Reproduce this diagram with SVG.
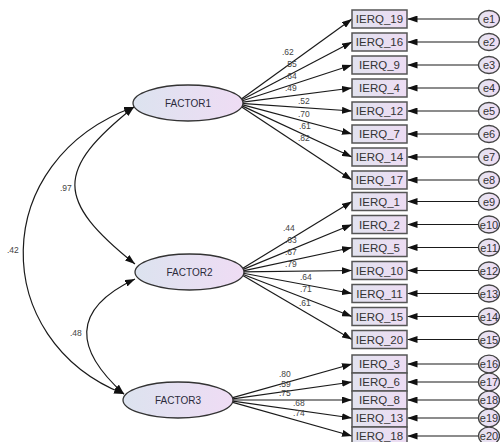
<svg xmlns="http://www.w3.org/2000/svg" width="500" height="442" viewBox="0 0 500 442">
<style>
.lat{stroke:#333;stroke-width:1.3;fill:url(#gE)}
.obs{stroke:#555;stroke-width:1.5;fill:url(#gB)}
.err{stroke:#444;stroke-width:1.3;fill:url(#gC)}
.ft{font-family:"Liberation Sans",Arial,sans-serif;font-size:10px;fill:#2a2a3a;text-anchor:middle}
.bt{font-family:"Liberation Sans",Arial,sans-serif;font-size:11.5px;fill:#333;text-anchor:middle}
.et{font-family:"Liberation Sans",Arial,sans-serif;font-size:11px;fill:#333;text-anchor:middle}
.lb{font-family:"Liberation Sans",Arial,sans-serif;font-size:8.5px;fill:#444}
.ln{stroke:#1a1a1a;stroke-width:1.2;fill:none;marker-end:url(#ah)}
.cv{stroke:#1a1a1a;stroke-width:1.2;fill:none;marker-start:url(#ah);marker-end:url(#ah)}
</style>
<defs>
<linearGradient id="gE" x1="0" y1="0" x2="1" y2="0"><stop offset="0" stop-color="#dce3ef"/><stop offset="1" stop-color="#efdcf4"/></linearGradient>
<linearGradient id="gB" x1="0" y1="0" x2="1" y2="0"><stop offset="0" stop-color="#e2e3ef"/><stop offset="1" stop-color="#eddcf3"/></linearGradient>
<linearGradient id="gC" x1="0" y1="0" x2="1" y2="0"><stop offset="0" stop-color="#e4e4f0"/><stop offset="1" stop-color="#f0dcf4"/></linearGradient>
<marker id="ah" viewBox="0 0 10 7" refX="10" refY="3.5" markerWidth="10" markerHeight="7" markerUnits="userSpaceOnUse" orient="auto-start-reverse"><path d="M0,0 L10,3.5 L0,7 z" fill="#111"/></marker>
</defs>
<g id="connectors">
<path class="cv" d="M134,107 C-12,160 -12,340 124,394"/>
<path class="cv" d="M134,107 C55,170 55,200 135,264"/>
<path class="cv" d="M135,279 C70,310 75,350 124,394"/>
<line class="ln" x1="241" y1="99.2" x2="352" y2="19"/>
<line class="ln" x1="241" y1="100.3" x2="352" y2="42"/>
<line class="ln" x1="241" y1="101.3" x2="352" y2="65"/>
<line class="ln" x1="241" y1="102.3" x2="352" y2="88"/>
<line class="ln" x1="241" y1="103.4" x2="352" y2="111"/>
<line class="ln" x1="241" y1="104.4" x2="352" y2="134"/>
<line class="ln" x1="241" y1="105.4" x2="352" y2="157"/>
<line class="ln" x1="241" y1="106.4" x2="352" y2="180"/>
<line class="ln" x1="242" y1="268.8" x2="352" y2="201.5"/>
<line class="ln" x1="242" y1="269.9" x2="352" y2="224.5"/>
<line class="ln" x1="242" y1="271.1" x2="352" y2="247.5"/>
<line class="ln" x1="242" y1="271.9" x2="352" y2="270.5"/>
<line class="ln" x1="242" y1="273" x2="352" y2="293.5"/>
<line class="ln" x1="242" y1="274" x2="352" y2="316.5"/>
<line class="ln" x1="242" y1="275.1" x2="352" y2="339.5"/>
<line class="ln" x1="231" y1="398.2" x2="352" y2="364"/>
<line class="ln" x1="231" y1="399.1" x2="352" y2="382"/>
<line class="ln" x1="231" y1="400" x2="352" y2="400"/>
<line class="ln" x1="231" y1="400.9" x2="352" y2="418"/>
<line class="ln" x1="231" y1="401.8" x2="352" y2="436"/>
<line class="ln" x1="478" y1="19" x2="407.5" y2="19"/>
<line class="ln" x1="478" y1="42" x2="407.5" y2="42"/>
<line class="ln" x1="478" y1="65" x2="407.5" y2="65"/>
<line class="ln" x1="478" y1="88" x2="407.5" y2="88"/>
<line class="ln" x1="478" y1="111" x2="407.5" y2="111"/>
<line class="ln" x1="478" y1="134" x2="407.5" y2="134"/>
<line class="ln" x1="478" y1="157" x2="407.5" y2="157"/>
<line class="ln" x1="478" y1="180" x2="407.5" y2="180"/>
<line class="ln" x1="478" y1="201.5" x2="407.5" y2="201.5"/>
<line class="ln" x1="478" y1="224.5" x2="407.5" y2="224.5"/>
<line class="ln" x1="478" y1="247.5" x2="407.5" y2="247.5"/>
<line class="ln" x1="478" y1="270.5" x2="407.5" y2="270.5"/>
<line class="ln" x1="478" y1="293.5" x2="407.5" y2="293.5"/>
<line class="ln" x1="478" y1="316.5" x2="407.5" y2="316.5"/>
<line class="ln" x1="478" y1="339.5" x2="407.5" y2="339.5"/>
<line class="ln" x1="478" y1="364" x2="407.5" y2="364"/>
<line class="ln" x1="478" y1="382" x2="407.5" y2="382"/>
<line class="ln" x1="478" y1="400" x2="407.5" y2="400"/>
<line class="ln" x1="478" y1="418" x2="407.5" y2="418"/>
<line class="ln" x1="478" y1="436" x2="407.5" y2="436"/>
<text class="lb" x="60" y="191">.97</text>
<text class="lb" x="7" y="253">.42</text>
<text class="lb" x="70" y="336">.48</text>
<text class="lb" x="282" y="55">.62</text>
<text class="lb" x="285" y="67">.55</text>
<text class="lb" x="285" y="79">.64</text>
<text class="lb" x="285" y="91">.49</text>
<text class="lb" x="298" y="104">.52</text>
<text class="lb" x="298" y="117">.70</text>
<text class="lb" x="299" y="129">.61</text>
<text class="lb" x="298" y="141">.82</text>
<text class="lb" x="283" y="231">.44</text>
<text class="lb" x="285" y="243">.63</text>
<text class="lb" x="285" y="255">.67</text>
<text class="lb" x="285" y="267">.79</text>
<text class="lb" x="300" y="280">.64</text>
<text class="lb" x="300" y="292">.71</text>
<text class="lb" x="299" y="306">.61</text>
<text class="lb" x="279" y="377">.80</text>
<text class="lb" x="279" y="387">.59</text>
<text class="lb" x="279" y="396">.75</text>
<text class="lb" x="293" y="406">.68</text>
<text class="lb" x="293" y="416">.74</text>
</g>
<g id="FACTOR1"><ellipse class="lat" cx="188" cy="103" rx="55" ry="18"/><text class="ft" x="188" y="106.5">FACTOR1</text></g>
<g id="FACTOR2"><ellipse class="lat" cx="189.5" cy="272" rx="54.5" ry="18"/><text class="ft" x="189.5" y="275.5">FACTOR2</text></g>
<g id="FACTOR3"><ellipse class="lat" cx="178" cy="400" rx="55" ry="18"/><text class="ft" x="178" y="403.5">FACTOR3</text></g>
<g id="IERQ_19"><rect class="obs" x="352" y="10" width="55" height="18"/><text class="bt" x="379.5" y="23">IERQ_19</text></g>
<g id="IERQ_16"><rect class="obs" x="352" y="33" width="55" height="18"/><text class="bt" x="379.5" y="46">IERQ_16</text></g>
<g id="IERQ_9"><rect class="obs" x="352" y="56" width="55" height="18"/><text class="bt" x="379.5" y="69">IERQ_9</text></g>
<g id="IERQ_4"><rect class="obs" x="352" y="79" width="55" height="18"/><text class="bt" x="379.5" y="92">IERQ_4</text></g>
<g id="IERQ_12"><rect class="obs" x="352" y="102" width="55" height="18"/><text class="bt" x="379.5" y="115">IERQ_12</text></g>
<g id="IERQ_7"><rect class="obs" x="352" y="125" width="55" height="18"/><text class="bt" x="379.5" y="138">IERQ_7</text></g>
<g id="IERQ_14"><rect class="obs" x="352" y="148" width="55" height="18"/><text class="bt" x="379.5" y="161">IERQ_14</text></g>
<g id="IERQ_17"><rect class="obs" x="352" y="171" width="55" height="18"/><text class="bt" x="379.5" y="184">IERQ_17</text></g>
<g id="IERQ_1"><rect class="obs" x="352" y="192.5" width="55" height="18"/><text class="bt" x="379.5" y="205.5">IERQ_1</text></g>
<g id="IERQ_2"><rect class="obs" x="352" y="215.5" width="55" height="18"/><text class="bt" x="379.5" y="228.5">IERQ_2</text></g>
<g id="IERQ_5"><rect class="obs" x="352" y="238.5" width="55" height="18"/><text class="bt" x="379.5" y="251.5">IERQ_5</text></g>
<g id="IERQ_10"><rect class="obs" x="352" y="261.5" width="55" height="18"/><text class="bt" x="379.5" y="274.5">IERQ_10</text></g>
<g id="IERQ_11"><rect class="obs" x="352" y="284.5" width="55" height="18"/><text class="bt" x="379.5" y="297.5">IERQ_11</text></g>
<g id="IERQ_15"><rect class="obs" x="352" y="307.5" width="55" height="18"/><text class="bt" x="379.5" y="320.5">IERQ_15</text></g>
<g id="IERQ_20"><rect class="obs" x="352" y="330.5" width="55" height="18"/><text class="bt" x="379.5" y="343.5">IERQ_20</text></g>
<g id="IERQ_3"><rect class="obs" x="352" y="355" width="55" height="18"/><text class="bt" x="379.5" y="368">IERQ_3</text></g>
<g id="IERQ_6"><rect class="obs" x="352" y="373" width="55" height="18"/><text class="bt" x="379.5" y="386">IERQ_6</text></g>
<g id="IERQ_8"><rect class="obs" x="352" y="391" width="55" height="18"/><text class="bt" x="379.5" y="404">IERQ_8</text></g>
<g id="IERQ_13"><rect class="obs" x="352" y="409" width="55" height="18"/><text class="bt" x="379.5" y="422">IERQ_13</text></g>
<g id="IERQ_18"><rect class="obs" x="352" y="427" width="55" height="18"/><text class="bt" x="379.5" y="440">IERQ_18</text></g>
<g id="e1"><ellipse class="err" cx="489" cy="19" rx="10.5" ry="8.5"/><text class="et" x="489" y="23">e1</text></g>
<g id="e2"><ellipse class="err" cx="489" cy="42" rx="10.5" ry="8.5"/><text class="et" x="489" y="46">e2</text></g>
<g id="e3"><ellipse class="err" cx="489" cy="65" rx="10.5" ry="8.5"/><text class="et" x="489" y="69">e3</text></g>
<g id="e4"><ellipse class="err" cx="489" cy="88" rx="10.5" ry="8.5"/><text class="et" x="489" y="92">e4</text></g>
<g id="e5"><ellipse class="err" cx="489" cy="111" rx="10.5" ry="8.5"/><text class="et" x="489" y="115">e5</text></g>
<g id="e6"><ellipse class="err" cx="489" cy="134" rx="10.5" ry="8.5"/><text class="et" x="489" y="138">e6</text></g>
<g id="e7"><ellipse class="err" cx="489" cy="157" rx="10.5" ry="8.5"/><text class="et" x="489" y="161">e7</text></g>
<g id="e8"><ellipse class="err" cx="489" cy="180" rx="10.5" ry="8.5"/><text class="et" x="489" y="184">e8</text></g>
<g id="e9"><ellipse class="err" cx="489" cy="201.5" rx="10.5" ry="8.5"/><text class="et" x="489" y="205.5">e9</text></g>
<g id="e10"><ellipse class="err" cx="489" cy="224.5" rx="10.5" ry="8.5"/><text class="et" x="489" y="228.5">e10</text></g>
<g id="e11"><ellipse class="err" cx="489" cy="247.5" rx="10.5" ry="8.5"/><text class="et" x="489" y="251.5">e11</text></g>
<g id="e12"><ellipse class="err" cx="489" cy="270.5" rx="10.5" ry="8.5"/><text class="et" x="489" y="274.5">e12</text></g>
<g id="e13"><ellipse class="err" cx="489" cy="293.5" rx="10.5" ry="8.5"/><text class="et" x="489" y="297.5">e13</text></g>
<g id="e14"><ellipse class="err" cx="489" cy="316.5" rx="10.5" ry="8.5"/><text class="et" x="489" y="320.5">e14</text></g>
<g id="e15"><ellipse class="err" cx="489" cy="339.5" rx="10.5" ry="8.5"/><text class="et" x="489" y="343.5">e15</text></g>
<g id="e16"><ellipse class="err" cx="489" cy="364" rx="10.5" ry="8.8"/><text class="et" x="489" y="368">e16</text></g>
<g id="e17"><ellipse class="err" cx="489" cy="382" rx="10.5" ry="8.8"/><text class="et" x="489" y="386">e17</text></g>
<g id="e18"><ellipse class="err" cx="489" cy="400" rx="10.5" ry="8.8"/><text class="et" x="489" y="404">e18</text></g>
<g id="e19"><ellipse class="err" cx="489" cy="418" rx="10.5" ry="8.8"/><text class="et" x="489" y="422">e19</text></g>
<g id="e20"><ellipse class="err" cx="489" cy="436" rx="10.5" ry="8.8"/><text class="et" x="489" y="440">e20</text></g>
</svg>
